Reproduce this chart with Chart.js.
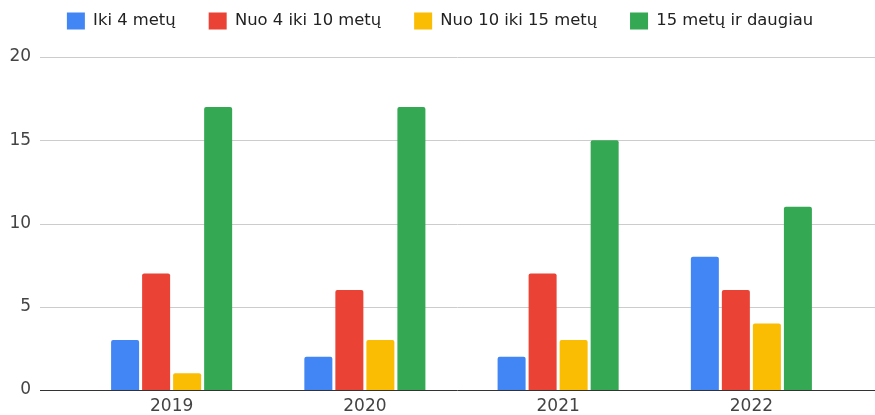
<!DOCTYPE html>
<html>
<head>
<meta charset="utf-8">
<script src="https://cdn.jsdelivr.net/npm/chart.js@4"></script>
<style>
  body { margin: 0; background: #fff; }
  canvas { display: block; }
</style>
</head>
<body>
<canvas id="chart" width="875" height="415"></canvas>
<script>
const years = ["2019", "2020", "2021", "2022"];
const seriesNames = ["Iki 4 metų", "Nuo 4 iki 10 metų", "Nuo 10 iki 15 metų", "15 metų ir daugiau"];
const under4 = [3, 2, 2, 8];
const from4to10 = [7, 6, 7, 6];
const from10to15 = [1, 3, 3, 4];
const over15 = [17, 17, 15, 11];
const yTicks = [0, 5, 10, 15, 20];

const colors = ["#4285F4", "#EA4335", "#FBBC04", "#34A853"];
const FONT = "'DejaVu Sans', sans-serif";

// google style gridlines: run past the plot area on both sides
const gridPlugin = {
  id: "wideGrid",
  beforeDatasetsDraw(chart) {
    const ctx = chart.ctx;
    const y = chart.scales.y;
    ctx.save();
    ctx.strokeStyle = "#cccccc";
    ctx.lineWidth = 1;
    yTicks.forEach(v => {
      if (v === 0) return;
      const py = Math.round(y.getPixelForValue(v)) + 0.5;
      ctx.beginPath();
      ctx.moveTo(40, py);
      ctx.lineTo(chart.width, py);
      ctx.stroke();
    });
    ctx.restore();
  },
  afterDatasetsDraw(chart) {
    // baseline on top of the bars
    const ctx = chart.ctx;
    const py = Math.round(chart.scales.y.getPixelForValue(0)) + 0.5;
    ctx.save();
    ctx.strokeStyle = "#333333";
    ctx.lineWidth = 1;
    ctx.beginPath();
    ctx.moveTo(40, py);
    ctx.lineTo(chart.width, py);
    ctx.stroke();
    ctx.restore();
  }
};

const data = [under4, from4to10, from10to15, over15];

new Chart(document.getElementById("chart"), {
  type: "bar",
  data: {
    labels: years,
    datasets: seriesNames.map((name, i) => ({
      label: name,
      data: data[i],
      backgroundColor: colors[i],
      borderWidth: 0,
      borderRadius: { topLeft: 2, topRight: 2 },
      borderSkipped: "bottom",
      categoryPercentage: 0.642,
      barPercentage: 0.903
    }))
  },
  options: {
    responsive: false,
    animation: false,
    layout: { padding: { left: 32, right: 27, top: -20.5, bottom: 0 } },
    plugins: {
      legend: {
        position: "top",
        labels: {
          boxWidth: 18,
          boxHeight: 17,
          padding: 33,
          color: "#222",
          font: { family: FONT, size: 16.4 }
        }
      },
      // empty spacer between legend and plot
      subtitle: {
        display: true,
        text: "",
        weight: 500,
        font: { size: 1 },
        padding: { top: 0, bottom: 16.3 }
      },
      tooltip: { enabled: false }
    },
    scales: {
      x: {
        grid: { display: false, drawTicks: false },
        border: { display: false },
        ticks: { color: "#444", padding: 6, font: { family: FONT, size: 17 } },
        afterFit(scale) { scale.height = 25; }
      },
      y: {
        min: 0,
        max: 20,
        grid: { display: false, drawTicks: false },
        border: { display: false },
        // mirrored so the labels are not clipped to the narrow axis box;
        // right edge of labels lands at x = 31
        ticks: {
          mirror: true,
          crossAlign: "far",
          padding: -65.6,
          color: "#444",
          font: { family: FONT, size: 17 }
        },
        afterBuildTicks(scale) { scale.ticks = yTicks.map(v => ({ value: v })); },
        afterFit(scale) { scale.width = 43; }
      }
    }
  },
  plugins: [gridPlugin]
});
</script>
</body>
</html>
